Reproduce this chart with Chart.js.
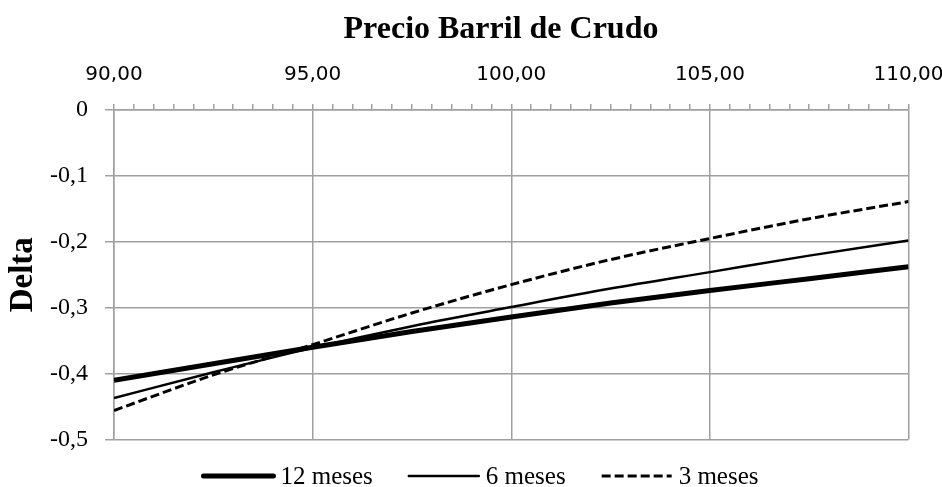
<!DOCTYPE html>
<html>
<head>
<meta charset="utf-8">
<script src="https://cdn.jsdelivr.net/npm/chart.js@4.4.1/dist/chart.umd.min.js"></script>
<style>
  html, body { margin: 0; padding: 0; background: #ffffff; }
  #wrap { width: 942px; height: 487px; }
</style>
</head>
<body>
<div id="wrap"><canvas id="c" width="942" height="487"></canvas></div>
<script>
// ---- Data ----
const precios = [90, 92.5, 95, 97.5, 100, 102.5, 105, 107.5, 110];
const delta12 = [-0.410, -0.385, -0.360, -0.336, -0.314, -0.293, -0.274, -0.256, -0.238];
const delta6  = [-0.437, -0.398, -0.361, -0.328, -0.299, -0.271, -0.246, -0.221, -0.198];
const delta3  = [-0.456, -0.402, -0.356, -0.308, -0.265, -0.227, -0.195, -0.165, -0.139];
const seriesLabels = ['12 meses', '6 meses', '3 meses'];
const chartTitle = 'Precio Barril de Crudo';
const yTitle = 'Delta';

const GRID = '#a0a0a0';
const toPts = arr => precios.map((p, i) => ({ x: p, y: arr[i] }));

const titlePlugin = {
  id: 'customTitle',
  afterDraw(chart) {
    const ctx = chart.ctx;
    ctx.save();
    ctx.font = 'bold 32px "Liberation Serif"';
    ctx.fillStyle = '#000';
    ctx.textAlign = 'center';
    ctx.textBaseline = 'middle';
    ctx.fillText(chartTitle, 501, 30);
    ctx.restore();
  }
};

const legendPlugin = {
  id: 'bottomLegend',
  afterDraw(chart) {
    const ctx = chart.ctx;
    ctx.save();
    ctx.font = '25px "Liberation Serif"';
    const lineLen = 70, gap = 7, itemPad = 36;
    const items = chart.data.datasets.map(ds => ({ ds, w: lineLen + gap + ctx.measureText(ds.label).width }));
    const total = items.reduce((a, b) => a + b.w, 0) + itemPad * (items.length - 1);
    let x = 481 - total / 2;
    const y = 476;
    items.forEach(it => {
      ctx.beginPath();
      ctx.setLineDash(it.ds.borderDash || []);
      ctx.lineWidth = it.ds.borderWidth;
      ctx.strokeStyle = it.ds.borderColor;
      ctx.lineCap = (it.ds.borderDash && it.ds.borderDash.length) ? 'butt' : 'round';
      ctx.moveTo(x, y);
      ctx.lineTo(x + lineLen, y);
      ctx.stroke();
      ctx.setLineDash([]);
      ctx.fillStyle = '#000';
      ctx.textBaseline = 'middle';
      ctx.textAlign = 'left';
      ctx.fillText(it.ds.label, x + lineLen + gap, y + 1);
      x += it.w + itemPad;
    });
    ctx.restore();
  }
};

new Chart(document.getElementById('c'), {
  type: 'line',
  data: {
    datasets: [
      { label: seriesLabels[0], data: toPts(delta12), borderColor: '#000', borderWidth: 5, pointRadius: 0, tension: 0.4, cubicInterpolationMode: 'monotone', fill: false },
      { label: seriesLabels[1], data: toPts(delta6), borderColor: '#000', borderWidth: 2.5, pointRadius: 0, tension: 0.4, cubicInterpolationMode: 'monotone', fill: false },
      { label: seriesLabels[2], data: toPts(delta3), borderColor: '#000', borderWidth: 3, borderDash: [9, 4], pointRadius: 0, tension: 0.4, cubicInterpolationMode: 'monotone', fill: false }
    ]
  },
  options: {
    responsive: false,
    animation: false,
    devicePixelRatio: 1,
    layout: { padding: { top: 0, left: 0, right: 33.5, bottom: 47.5 } },
    plugins: {
      legend: { display: false },
      title: { display: false },
      tooltip: { enabled: false }
    },
    scales: {
      x: {
        type: 'linear',
        position: 'top',
        min: 90,
        max: 110,
        afterFit: s => { s.height = 110; s.paddingLeft = 0; s.paddingRight = 0; },
        ticks: {
          stepSize: 0.5,
          autoSkip: false,
          maxRotation: 0,
          minRotation: 0,
          padding: 17,
          color: '#000',
          font: { family: '"DejaVu Sans"', size: 20 },
          callback: v => (Math.abs(v % 5) < 1e-9 ? v.toFixed(2).replace('.', ',') : '')
        },
        grid: {
          color: c => (c.tick && Math.abs(c.tick.value % 5) < 1e-9 ? GRID : 'rgba(0,0,0,0)'),
          tickColor: GRID,
          tickLength: 6,
          lineWidth: 1.5
        },
        border: { display: true, color: GRID, width: 1.5 }
      },
      y: {
        min: -0.5,
        max: 0,
        afterFit: s => { s.width = 114; s.paddingTop = 0; s.paddingBottom = 0; },
        ticks: {
          stepSize: 0.1,
          padding: 17,
          color: '#000',
          font: { family: '"Liberation Serif"', size: 24 },
          callback: v => (Math.abs(v) < 1e-9 ? '0' : v.toFixed(1).replace('.', ','))
        },
        grid: { color: GRID, tickColor: GRID, tickLength: 9, lineWidth: 1.5 },
        border: { display: true, color: GRID, width: 1.5 },
        title: {
          display: true,
          text: yTitle,
          color: '#000',
          font: { family: '"Liberation Serif"', size: 33, weight: 'bold' },
          padding: { top: 4, bottom: 0 }
        }
      }
    }
  },
  plugins: [titlePlugin, legendPlugin]
});
</script>
</body>
</html>
